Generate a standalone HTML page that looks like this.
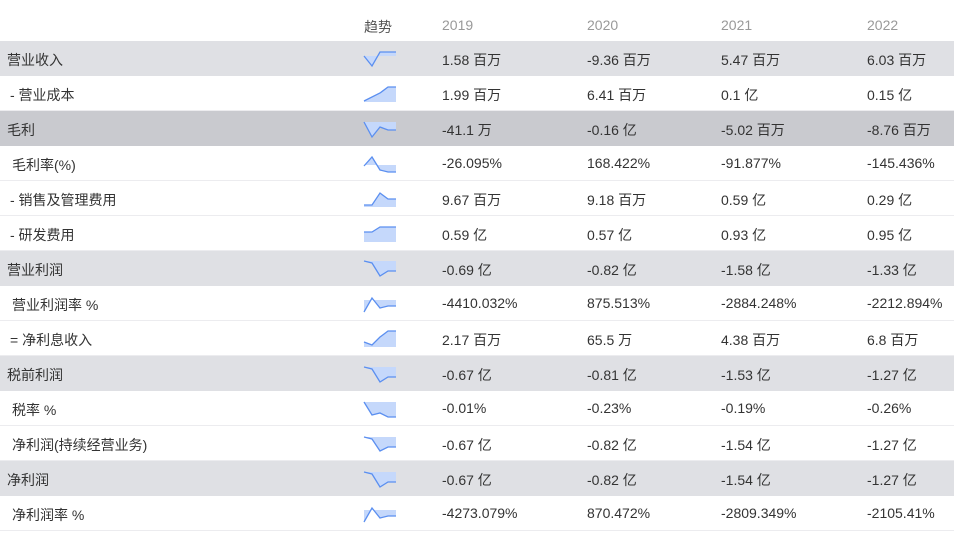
<!DOCTYPE html>
<html><head><meta charset="utf-8"><style>
body{margin:0;width:954px;height:533px;background:#fff;position:relative;overflow:hidden;font-family:"Liberation Sans","Noto Sans CJK SC",sans-serif;font-size:14px;color:#333}
.r{position:absolute;left:0;width:954px;height:35px;border-bottom:1px solid #ececef;box-sizing:border-box}
.g{background:#dfe0e4;border-bottom:none}.d{background:#c9cacf;border-bottom:none}
.t{position:absolute;top:9px;white-space:nowrap}
.h{position:absolute;top:17px;font-size:14px;color:#999}
svg{position:absolute;left:0;top:0}
</style></head><body>
<div class="h" style="left:364px;color:#555">趋势</div>
<div class="h" style="left:442px">2019</div><div class="h" style="left:587px">2020</div><div class="h" style="left:721px">2021</div><div class="h" style="left:867px">2022</div>

<div class="r g" style="top:41px"><span class="t" style="left:7px">营业收入</span><span class="t" style="left:442px">1.58 百万</span><span class="t" style="left:587px">-9.36 百万</span><span class="t" style="left:721px">5.47 百万</span><span class="t" style="left:867px">6.03 百万</span></div>
<div class="r" style="top:76px"><span class="t" style="left:10px">- 营业成本</span><span class="t" style="left:442px">1.99 百万</span><span class="t" style="left:587px">6.41 百万</span><span class="t" style="left:721px">0.1 亿</span><span class="t" style="left:867px">0.15 亿</span></div>
<div class="r d" style="top:111px"><span class="t" style="left:7px">毛利</span><span class="t" style="left:442px">-41.1 万</span><span class="t" style="left:587px">-0.16 亿</span><span class="t" style="left:721px">-5.02 百万</span><span class="t" style="left:867px">-8.76 百万</span></div>
<div class="r" style="top:146px"><span class="t" style="left:12px">毛利率(%)</span><span class="t" style="left:442px">-26.095%</span><span class="t" style="left:587px">168.422%</span><span class="t" style="left:721px">-91.877%</span><span class="t" style="left:867px">-145.436%</span></div>
<div class="r" style="top:181px"><span class="t" style="left:10px">- 销售及管理费用</span><span class="t" style="left:442px">9.67 百万</span><span class="t" style="left:587px">9.18 百万</span><span class="t" style="left:721px">0.59 亿</span><span class="t" style="left:867px">0.29 亿</span></div>
<div class="r" style="top:216px"><span class="t" style="left:10px">- 研发费用</span><span class="t" style="left:442px">0.59 亿</span><span class="t" style="left:587px">0.57 亿</span><span class="t" style="left:721px">0.93 亿</span><span class="t" style="left:867px">0.95 亿</span></div>
<div class="r g" style="top:251px"><span class="t" style="left:7px">营业利润</span><span class="t" style="left:442px">-0.69 亿</span><span class="t" style="left:587px">-0.82 亿</span><span class="t" style="left:721px">-1.58 亿</span><span class="t" style="left:867px">-1.33 亿</span></div>
<div class="r" style="top:286px"><span class="t" style="left:12px">营业利润率 %</span><span class="t" style="left:442px">-4410.032%</span><span class="t" style="left:587px">875.513%</span><span class="t" style="left:721px">-2884.248%</span><span class="t" style="left:867px">-2212.894%</span></div>
<div class="r" style="top:321px"><span class="t" style="left:10px">= 净利息收入</span><span class="t" style="left:442px">2.17 百万</span><span class="t" style="left:587px">65.5 万</span><span class="t" style="left:721px">4.38 百万</span><span class="t" style="left:867px">6.8 百万</span></div>
<div class="r g" style="top:356px"><span class="t" style="left:7px">税前利润</span><span class="t" style="left:442px">-0.67 亿</span><span class="t" style="left:587px">-0.81 亿</span><span class="t" style="left:721px">-1.53 亿</span><span class="t" style="left:867px">-1.27 亿</span></div>
<div class="r" style="top:391px"><span class="t" style="left:12px">税率 %</span><span class="t" style="left:442px">-0.01%</span><span class="t" style="left:587px">-0.23%</span><span class="t" style="left:721px">-0.19%</span><span class="t" style="left:867px">-0.26%</span></div>
<div class="r" style="top:426px"><span class="t" style="left:12px">净利润(持续经营业务)</span><span class="t" style="left:442px">-0.67 亿</span><span class="t" style="left:587px">-0.82 亿</span><span class="t" style="left:721px">-1.54 亿</span><span class="t" style="left:867px">-1.27 亿</span></div>
<div class="r g" style="top:461px"><span class="t" style="left:7px">净利润</span><span class="t" style="left:442px">-0.67 亿</span><span class="t" style="left:587px">-0.82 亿</span><span class="t" style="left:721px">-1.54 亿</span><span class="t" style="left:867px">-1.27 亿</span></div>
<div class="r" style="top:496px"><span class="t" style="left:12px">净利润率 %</span><span class="t" style="left:442px">-4273.079%</span><span class="t" style="left:587px">870.472%</span><span class="t" style="left:721px">-2809.349%</span><span class="t" style="left:867px">-2105.41%</span></div>

<svg width="954" height="533" fill="#c5d8fb" stroke="none">
<g>
<polygon points="364,56 372,66 380,52 396,52 396,56"/>
<polygon points="364,101 380,93 388,87 396,87 396,102 364,102"/>
<polygon points="364,122 372,137 380,127 388,130 396,130 396,122"/>
<polygon points="364,166 372,157 380,170 388,172 396,172 396,165 364,165"/>
<polygon points="364,205 372,205 380,193 388,199 396,199 396,207 364,207"/>
<polygon points="364,232 372,232 380,227 396,227 396,242 364,242"/>
<polygon points="364,261 372,263 380,276 388,271 396,271 396,261"/>
<polygon points="364,312 372,298 380,308 388,306 396,306 396,300 364,300"/>
<polygon points="364,342 372,345 380,337 388,331 396,331 396,347 364,347"/>
<polygon points="364,367 372,369 380,382 388,377 396,377 396,367"/>
<polygon points="364,402 372,415 380,413 388,417 396,417 396,402"/>
<polygon points="364,437 372,439 380,451 388,447 396,447 396,437"/>
<polygon points="364,472 372,474 380,487 388,482 396,482 396,472"/>
<polygon points="364,522 372,508 380,518 388,516 396,516 396,510 364,510"/>
</g>
<g fill="none" stroke="#5b8ff0" stroke-width="1.3">
<polyline points="364,56 372,66 380,52 396,52"/>
<polyline points="364,101 380,93 388,87 396,87"/>
<polyline points="364,122 372,137 380,127 388,130 396,130"/>
<polyline points="364,166 372,157 380,170 388,172 396,172"/>
<polyline points="364,205 372,205 380,193 388,199 396,199"/>
<polyline points="364,232 372,232 380,227 396,227"/>
<polyline points="364,261 372,263 380,276 388,271 396,271"/>
<polyline points="364,312 372,298 380,308 388,306 396,306"/>
<polyline points="364,342 372,345 380,337 388,331 396,331"/>
<polyline points="364,367 372,369 380,382 388,377 396,377"/>
<polyline points="364,402 372,415 380,413 388,417 396,417"/>
<polyline points="364,437 372,439 380,451 388,447 396,447"/>
<polyline points="364,472 372,474 380,487 388,482 396,482"/>
<polyline points="364,522 372,508 380,518 388,516 396,516"/>
</g>
</svg>
</body></html>
